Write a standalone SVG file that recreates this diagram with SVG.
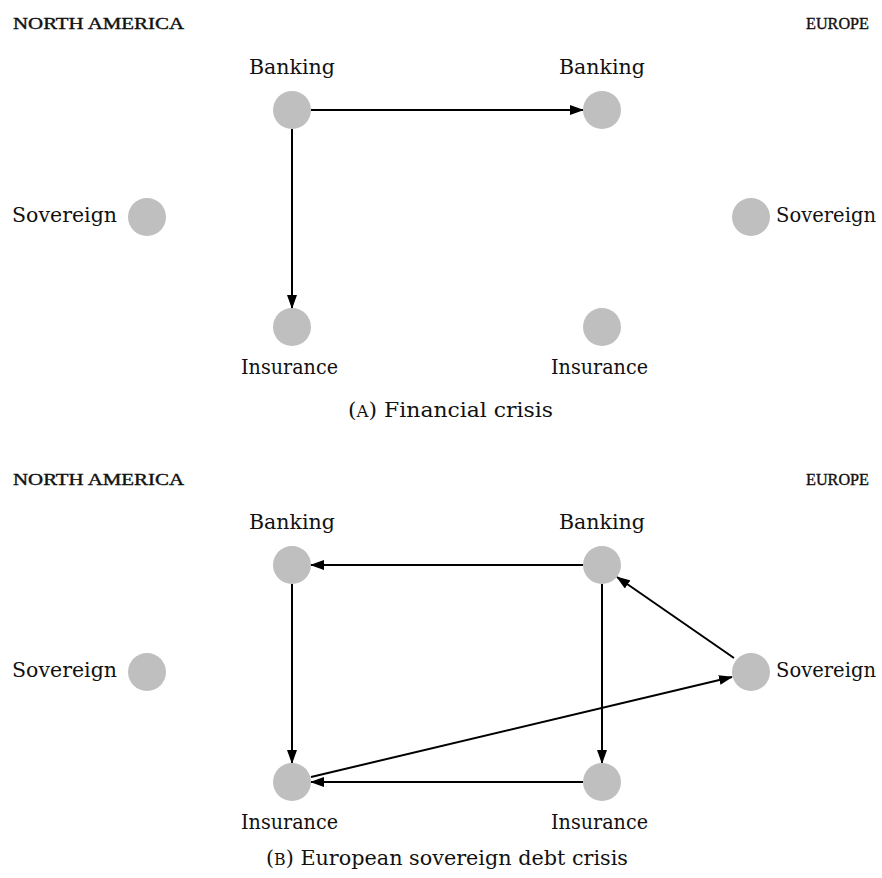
<svg xmlns="http://www.w3.org/2000/svg" width="882" height="878" viewBox="0 0 882 878">
<style>
.node{fill:#bfbfbf}
.lbl{font-family:"DejaVu Serif","Liberation Serif",serif;font-size:21px;fill:#111}
.lbr{font-family:"DejaVu Serif","Liberation Serif",serif;font-size:20px;fill:#111}
.hdr{font-family:"Liberation Serif",serif;font-size:17px;fill:#111;stroke:#111;stroke-width:0.4}
.cap{font-family:"DejaVu Serif","Liberation Serif",serif;font-size:21px;fill:#111}
.e{stroke:#000;stroke-width:2;fill:none;marker-end:url(#ah)}
</style>
<defs>
<marker id="ah" viewBox="0 0 14 10" refX="13" refY="5" markerWidth="14" markerHeight="10" markerUnits="userSpaceOnUse" orient="auto">
<path d="M0,0 L14,5 L0,10 z" fill="#000"/>
</marker>
</defs>
<rect width="882" height="878" fill="#fff"/>
<!-- panel A -->
<text class="hdr" x="13" y="29" textLength="171" lengthAdjust="spacingAndGlyphs">NORTH AMERICA</text>
<text class="hdr" x="806" y="29" textLength="63" lengthAdjust="spacingAndGlyphs">EUROPE</text>
<g id="connectors-a">
<line class="e" x1="311" y1="110" x2="583" y2="110"/>
<line class="e" x1="292" y1="129" x2="292" y2="308"/>
</g>
<g id="a-na-banking"><circle class="node" cx="292" cy="110" r="19"/><text class="lbl" x="249" y="74" textLength="86" lengthAdjust="spacingAndGlyphs">Banking</text></g>
<g id="a-eu-banking"><circle class="node" cx="602" cy="110" r="19"/><text class="lbl" x="559" y="74" textLength="86" lengthAdjust="spacingAndGlyphs">Banking</text></g>
<g id="a-na-sovereign"><circle class="node" cx="147" cy="217" r="19"/><text class="lbl" x="12" y="222" textLength="105" lengthAdjust="spacingAndGlyphs">Sovereign</text></g>
<g id="a-eu-sovereign"><circle class="node" cx="751" cy="217" r="19"/><text class="lbr" x="776" y="222" textLength="100" lengthAdjust="spacingAndGlyphs">Sovereign</text></g>
<g id="a-na-insurance"><circle class="node" cx="292" cy="327" r="19"/><text class="lbl" x="241" y="374" textLength="97" lengthAdjust="spacingAndGlyphs">Insurance</text></g>
<g id="a-eu-insurance"><circle class="node" cx="602" cy="327" r="19"/><text class="lbl" x="551" y="374" textLength="97" lengthAdjust="spacingAndGlyphs">Insurance</text></g>
<text class="cap" x="348" y="417" textLength="205" lengthAdjust="spacingAndGlyphs">(<tspan font-size="16">A</tspan>) Financial crisis</text>
<!-- panel B -->
<text class="hdr" x="13" y="485" textLength="171" lengthAdjust="spacingAndGlyphs">NORTH AMERICA</text>
<text class="hdr" x="806" y="485" textLength="63" lengthAdjust="spacingAndGlyphs">EUROPE</text>
<g id="connectors-b">
<line class="e" x1="583" y1="565" x2="311" y2="565"/>
<line class="e" x1="292" y1="584" x2="292" y2="763"/>
<line class="e" x1="602" y1="584" x2="602" y2="763"/>
<line class="e" x1="583" y1="782" x2="311" y2="782"/>
<line class="e" x1="734" y1="658" x2="617" y2="577"/>
<line class="e" x1="311" y1="777" x2="732" y2="677"/>
</g>
<g id="b-na-banking"><circle class="node" cx="292" cy="565" r="19"/><text class="lbl" x="249" y="529" textLength="86" lengthAdjust="spacingAndGlyphs">Banking</text></g>
<g id="b-eu-banking"><circle class="node" cx="602" cy="565" r="19"/><text class="lbl" x="559" y="529" textLength="86" lengthAdjust="spacingAndGlyphs">Banking</text></g>
<g id="b-na-sovereign"><circle class="node" cx="147" cy="672" r="19"/><text class="lbl" x="12" y="677" textLength="105" lengthAdjust="spacingAndGlyphs">Sovereign</text></g>
<g id="b-eu-sovereign"><circle class="node" cx="751" cy="672" r="19"/><text class="lbr" x="776" y="677" textLength="100" lengthAdjust="spacingAndGlyphs">Sovereign</text></g>
<g id="b-na-insurance"><circle class="node" cx="292" cy="782" r="19"/><text class="lbl" x="241" y="829" textLength="97" lengthAdjust="spacingAndGlyphs">Insurance</text></g>
<g id="b-eu-insurance"><circle class="node" cx="602" cy="782" r="19"/><text class="lbl" x="551" y="829" textLength="97" lengthAdjust="spacingAndGlyphs">Insurance</text></g>
<text class="cap" x="266" y="865" textLength="362" lengthAdjust="spacingAndGlyphs">(<tspan font-size="16">B</tspan>) European sovereign debt crisis</text>
</svg>
